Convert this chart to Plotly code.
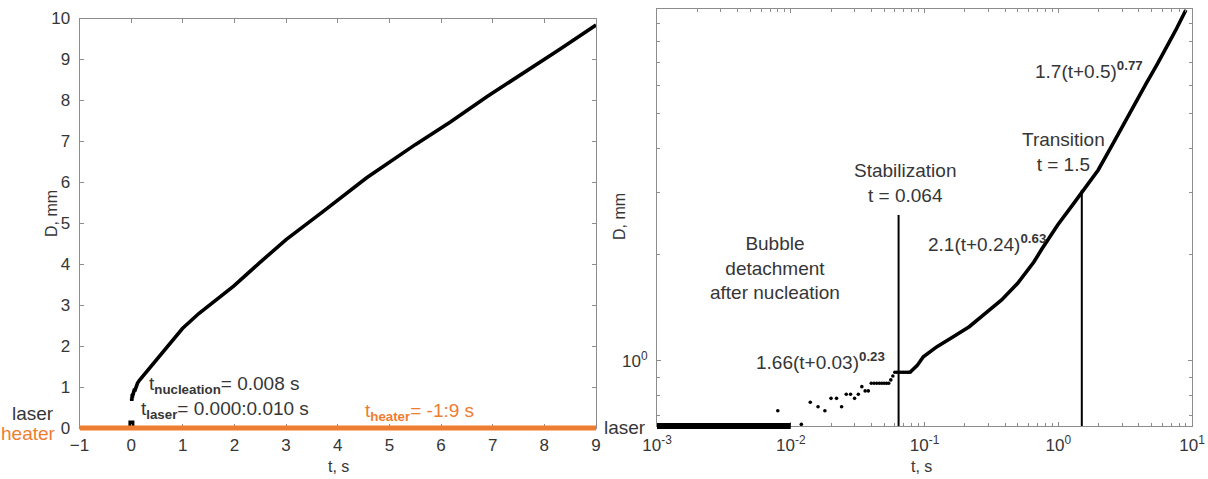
import plotly.graph_objects as go

W, H = 1208, 479

# Bubble diameter D (mm) versus time t (s) after nucleation
t_s = [0.008, 0.012, 0.014, 0.016, 0.018, 0.020, 0.022, 0.024, 0.026, 0.028,
       0.030, 0.032, 0.034, 0.036, 0.038, 0.040, 0.042, 0.044, 0.046, 0.048,
       0.050, 0.052, 0.054, 0.056, 0.058, 0.060, 0.062, 0.064, 0.066, 0.068,
       0.070, 0.072, 0.074, 0.076, 0.078, 0.088, 0.098, 0.124, 0.164, 0.216,
       0.285, 0.377, 0.497, 0.657, 0.752, 0.993, 1.31, 1.56, 1.99, 2.5,
       3.0, 3.7, 4.56, 5.5, 6.18, 6.9, 7.67, 8.3, 9.0]
D_mm = [0.723, 0.662, 0.764, 0.742, 0.723, 0.784, 0.784, 0.742, 0.805, 0.805,
        0.784, 0.805, 0.846, 0.823, 0.823, 0.865, 0.865, 0.865, 0.865, 0.865,
        0.865, 0.865, 0.865, 0.884, 0.907, 0.929, 0.929, 0.929, 0.929, 0.929,
        0.929, 0.929, 0.929, 0.929, 0.929, 0.970, 1.028, 1.098, 1.171, 1.250,
        1.364, 1.488, 1.658, 1.906, 2.070, 2.430, 2.795, 3.050, 3.470, 4.050,
        4.600, 5.270, 6.110, 6.920, 7.470, 8.100, 8.720, 9.250, 9.840]

# Laser pulse and heater time windows (s)
laser_t = [0.000, 0.010]
laser_mark_D = 0.11
heater_t = [-1, 9]

# Regime boundaries (s) and the height each marker line reaches (mm)
t_stabilization = 0.064
stabilization_top_D = 2.59
t_transition = 1.5
transition_top_D = 3.05

# Time below which the log-log view shows individual frames
t_frames_end = 0.078

# Axis ticks
lin_x_ticks = list(range(-1, 10))
lin_y_ticks = list(range(0, 11))
log_x_ticks = [1e-3, 1e-2, 1e-1, 1e0, 1e1]
log_x_text = ["10<sup>-3</sup>", "10<sup>-2</sup>", "10<sup>-1</sup>",
              "10<sup>0</sup>", "10<sup>1</sup>"]
log_y_ticks = [1.0]
log_y_text = ["10<sup>0</sup>"]

BLACK = "#000000"
TEXT = "#363636"
AXIS = "#8c8c8c"
ORANGE = "#ED7D31"
FONT = "Liberation Sans, Arial, sans-serif"


def px(x):
    return x / W


def py(y):
    return 1 - y / H


x_log_range = [-3, 1]
y_log_range = [-0.1839, 0.9952]

log_minor_x = [m * 10 ** e for e in range(-3, 1) for m in range(2, 10)]
log_minor_y = [0.7, 0.8, 0.9] + [m for m in range(2, 11)]

fig = go.Figure()

# linear view
fig.add_trace(go.Scatter(x=t_s, y=D_mm, mode="lines",
                         line=dict(color=BLACK, width=3.6),
                         xaxis="x", yaxis="y", hoverinfo="skip"))
fig.add_trace(go.Scatter(x=[sum(laser_t) / 2], y=[laser_mark_D], mode="markers",
                         marker=dict(symbol="square", size=6, color=BLACK),
                         xaxis="x", yaxis="y", hoverinfo="skip"))

# log-log view: single frames as dots, later growth as a line
t_early = [t for t in t_s if t <= t_frames_end]
D_early = [d for t, d in zip(t_s, D_mm) if t <= t_frames_end]
t_late = [t for t in t_s if t >= t_frames_end]
D_late = [d for t, d in zip(t_s, D_mm) if t >= t_frames_end]

fig.add_trace(go.Scatter(x=t_early, y=D_early, mode="markers",
                         marker=dict(size=3.6, color=BLACK),
                         xaxis="x2", yaxis="y2", hoverinfo="skip"))
fig.add_trace(go.Scatter(x=t_late, y=D_late, mode="lines",
                         line=dict(color=BLACK, width=3.6),
                         xaxis="x2", yaxis="y2", hoverinfo="skip"))

y_bottom = 10 ** y_log_range[0]
fig.add_trace(go.Scatter(x=[t_stabilization, t_stabilization],
                         y=[y_bottom, stabilization_top_D], mode="lines",
                         line=dict(color=BLACK, width=2),
                         xaxis="x2", yaxis="y2", hoverinfo="skip"))
fig.add_trace(go.Scatter(x=[t_transition, t_transition],
                         y=[y_bottom, transition_top_D], mode="lines",
                         line=dict(color=BLACK, width=2),
                         xaxis="x2", yaxis="y2", hoverinfo="skip"))

shapes = [
    # heater on during the whole record, drawn at D = 0
    dict(type="line", xref="x", yref="y domain", x0=heater_t[0], x1=heater_t[1],
         y0=0, y1=0, line=dict(color=ORANGE, width=5), layer="above"),
    # laser window along the bottom of the log-log view
    dict(type="line", xref="x2", yref="y2 domain",
         x0=10 ** x_log_range[0], x1=laser_t[1], y0=0, y1=0,
         line=dict(color=BLACK, width=6), layer="above"),
]


def note(x, y, text, xanchor="left", color=TEXT, size=19, align="left"):
    return dict(x=px(x), y=py(y), xref="paper", yref="paper", text=text,
                showarrow=False, xanchor=xanchor, yanchor="middle", align=align,
                font=dict(family=FONT, size=size, color=color))


def axis_title(x, y, text, angle=0):
    return dict(x=px(x), y=py(y), xref="paper", yref="paper", text=text,
                showarrow=False, xanchor="center", yanchor="middle", textangle=angle,
                font=dict(family=FONT, size=16, color=TEXT))


annotations = [
    note(147, 385, "t<sub><b>nucleation</b></sub>= 0.008 s"),
    note(139, 410, "t<sub><b>laser</b></sub>= 0.000:0.010 s"),
    note(363, 412, "t<sub><b>heater</b></sub>= -1:9 s", color=ORANGE),
    note(56, 413, "laser", xanchor="right"),
    note(58, 433, "heater", xanchor="right", color=ORANGE),
    note(648, 427, "laser", xanchor="right"),
    note(775, 268, "Bubble<br>detachment<br>after nucleation", xanchor="center", align="center"),
    note(905, 183, "Stabilization<br>t = 0.064", xanchor="center", align="center"),
    note(1063, 152, "Transition<br>t = 1.5", xanchor="center", align="center"),
    note(1033, 70, "1.7(t+0.5)<sup><b>0.77</b></sup>"),
    note(926, 243, "2.1(t+0.24)<sup><b>0.63</b></sup>"),
    note(754, 361, "1.66(t+0.03)<sup><b>0.23</b></sup>"),
    axis_title(51, 214, "D, mm", angle=-90),
    axis_title(338, 466, "t, s"),
    axis_title(620, 217, "D, mm", angle=-90),
    axis_title(921, 466, "t, s"),
]

axis_common = dict(showline=True, linecolor=AXIS, linewidth=1, mirror="ticks",
                   ticks="inside", ticklen=4, tickcolor=AXIS, tickwidth=1,
                   showgrid=False, zeroline=False, automargin=False,
                   tickfont=dict(family=FONT, size=17, color=TEXT))

fig.update_layout(
    width=W, height=H,
    margin=dict(l=0, r=0, t=0, b=0, autoexpand=False),
    paper_bgcolor="white", plot_bgcolor="white",
    showlegend=False,
    font=dict(family=FONT, color=TEXT),
    xaxis=dict(axis_common, domain=[px(79.5), px(596)], range=[-1, 9], anchor="y",
               tickmode="array", tickvals=lin_x_ticks, ticklabelstandoff=2),
    yaxis=dict(axis_common, domain=[py(428), py(18.5)], range=[0, 10], anchor="x",
               tickmode="array", tickvals=lin_y_ticks, ticklabelstandoff=5),
    xaxis2=dict(axis_common, type="log", domain=[px(657), px(1192)], range=x_log_range,
                anchor="y2", tickmode="array", tickvals=log_x_ticks, ticktext=log_x_text,
                ticklabelstandoff=4,
                minor=dict(tickmode="array", tickvals=log_minor_x, ticks="inside",
                           ticklen=3, tickcolor=AXIS, showgrid=False)),
    yaxis2=dict(axis_common, type="log", domain=[py(426), py(9.2)], range=y_log_range,
                anchor="x2", tickmode="array", tickvals=log_y_ticks, ticktext=log_y_text,
                ticklabelstandoff=5,
                minor=dict(tickmode="array", tickvals=log_minor_y, ticks="inside",
                           ticklen=3, tickcolor=AXIS, showgrid=False)),
    shapes=shapes,
    annotations=annotations,
)

fig.write_html("out.html")
